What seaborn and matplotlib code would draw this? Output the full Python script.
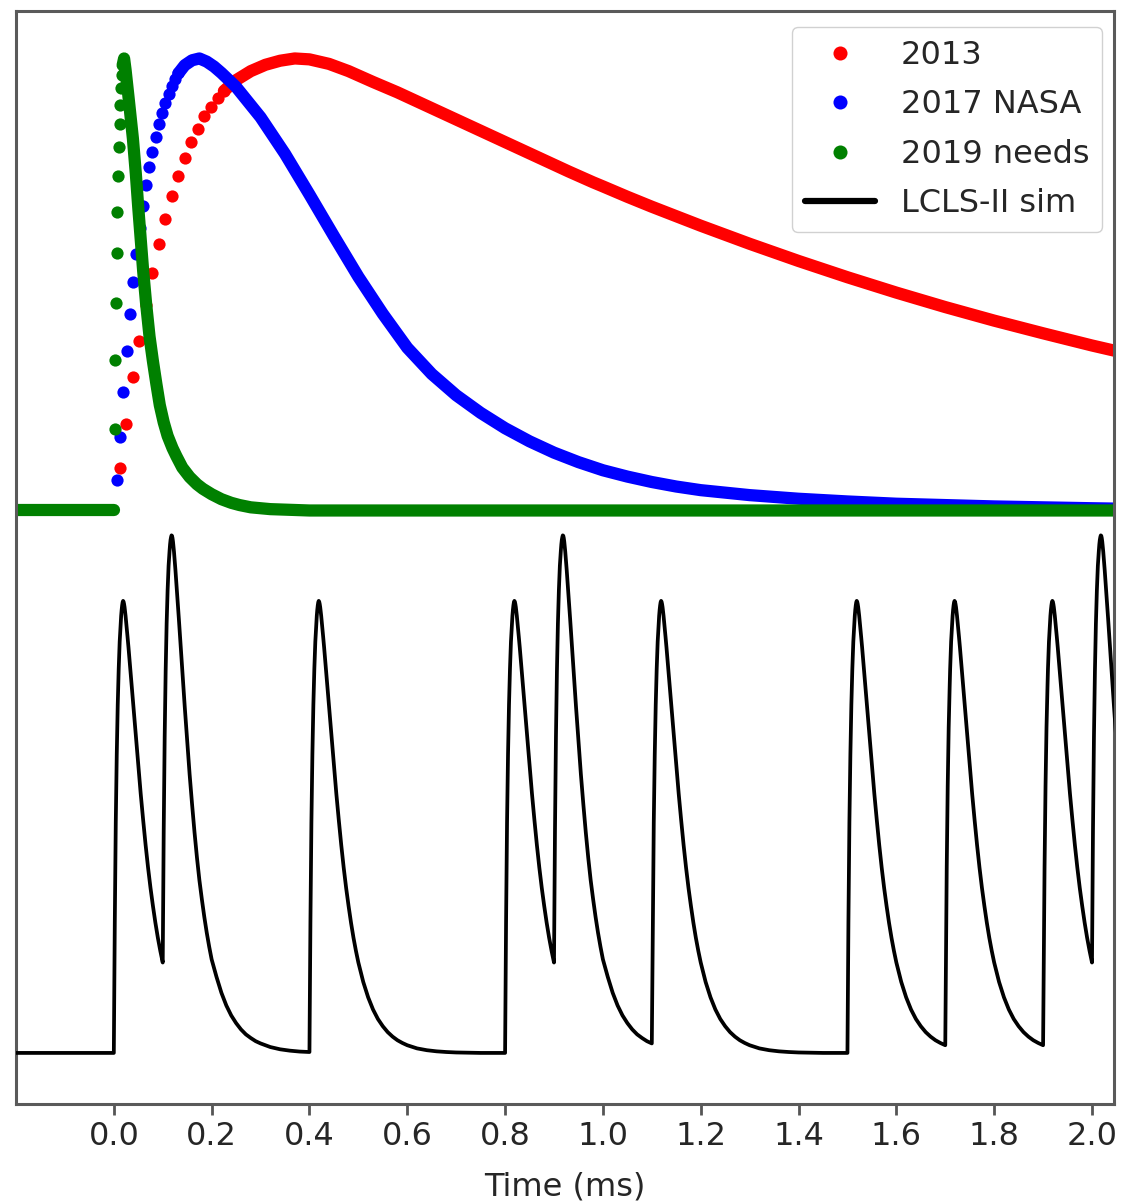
import numpy as np
import matplotlib
matplotlib.use("Agg")
import matplotlib.pyplot as plt
import seaborn as sns

# ---------------- data ----------------
# time in ms, amplitude normalised (pulse peak = 1)
red_rise_t = [0.012, 0.025, 0.039, 0.052, 0.065, 0.079, 0.092, 0.105, 0.118, 0.132,
              0.145, 0.158, 0.172, 0.185, 0.198, 0.212, 0.225]
red_rise_v = [0.093, 0.192, 0.296, 0.376, 0.455, 0.525, 0.590, 0.645, 0.695, 0.740,
              0.780, 0.815, 0.845, 0.872, 0.893, 0.912, 0.928]
red_body_t = [0.225, 0.25, 0.28, 0.31, 0.34, 0.37, 0.40, 0.44, 0.48, 0.53, 0.58, 0.63,
              0.68, 0.73, 0.78, 0.83, 0.88, 0.93, 0.98, 1.00, 1.05, 1.10, 1.15, 1.20,
              1.30, 1.40, 1.50, 1.60, 1.70, 1.80, 1.90, 2.00, 2.06]
red_body_v = [0.928, 0.952, 0.972, 0.986, 0.995, 1.000, 0.998, 0.988, 0.972, 0.948, 0.925, 0.900,
              0.875, 0.850, 0.825, 0.800, 0.775, 0.750, 0.726, 0.717, 0.694, 0.672, 0.651, 0.630,
              0.590, 0.552, 0.516, 0.482, 0.450, 0.420, 0.392, 0.365, 0.350]

blue_rise_t = [0.006, 0.013, 0.019, 0.026, 0.033, 0.039, 0.046, 0.053, 0.059, 0.066,
               0.072, 0.079, 0.086, 0.092, 0.099, 0.105, 0.112, 0.119, 0.125, 0.132]
blue_rise_v = [0.067, 0.163, 0.262, 0.352, 0.435, 0.505, 0.568, 0.624, 0.674, 0.719,
               0.759, 0.794, 0.826, 0.854, 0.879, 0.902, 0.922, 0.940, 0.955, 0.967]
blue_body_t = [0.132, 0.145, 0.16, 0.175, 0.19, 0.205, 0.22, 0.25, 0.30, 0.35, 0.40, 0.45,
               0.50, 0.55, 0.60, 0.65, 0.70, 0.75, 0.80, 0.85, 0.90, 0.95, 1.00, 1.05,
               1.10, 1.15, 1.20, 1.30, 1.40, 1.50, 1.60, 1.70, 1.80, 1.90, 2.00, 2.06]
blue_body_v = [0.967, 0.985, 0.996, 1.000, 0.993, 0.982, 0.968, 0.937, 0.870, 0.789, 0.699, 0.607,
               0.517, 0.435, 0.360, 0.302, 0.255, 0.216, 0.182, 0.153, 0.128, 0.107, 0.089, 0.075,
               0.063, 0.053, 0.045, 0.034, 0.026, 0.020, 0.015, 0.012, 0.009, 0.007, 0.005, 0.004]

green_base_t = [-0.25, 0.0]
green_base_v = [0.0, 0.0]
green_rise_t = [0.0015, 0.003, 0.0045, 0.006, 0.0075, 0.009, 0.0105, 0.012, 0.0135,
                0.015, 0.0165, 0.018]
green_rise_v = [0.181, 0.333, 0.458, 0.569, 0.661, 0.739, 0.805, 0.854, 0.897,
                0.934, 0.963, 0.985]
green_body_t = [0.018, 0.021, 0.024, 0.030, 0.039, 0.045, 0.050, 0.055, 0.060, 0.066, 0.073,
                0.080, 0.087, 0.094, 0.102, 0.110, 0.120, 0.128, 0.140, 0.155, 0.170, 0.182,
                0.20, 0.22, 0.24, 0.257, 0.28, 0.32, 0.40, 2.06]
green_body_v = [0.985, 1.000, 0.975, 0.915, 0.823, 0.745, 0.670, 0.600, 0.530, 0.458, 0.385,
                0.330, 0.280, 0.233, 0.195, 0.165, 0.138, 0.120, 0.095, 0.074, 0.058, 0.048,
                0.036, 0.025, 0.017, 0.012, 0.007, 0.003, 0.0, 0.0]

# LCLS-II simulated trace: pulse start times, which of the two read pulse
# shapes follows each start, and the two shapes sampled after a start
pulse_onsets = [0.0, 0.1, 0.4, 0.8, 0.9, 1.1, 1.5, 1.7, 1.9, 2.0]
pulse_kinds = ["single", "pileup", "single", "single", "pileup",
               "single", "single", "single", "single", "pileup"]
pulse_tau = [0.001, 0.002, 0.003, 0.004, 0.005, 0.006, 0.007, 0.008, 0.009, 0.010,
             0.011, 0.012, 0.013, 0.014, 0.015, 0.016, 0.017, 0.018, 0.019, 0.020,
             0.021, 0.022, 0.023, 0.024, 0.026, 0.028, 0.030, 0.033, 0.036, 0.040,
             0.045, 0.050, 0.055, 0.060, 0.065, 0.070, 0.075, 0.080, 0.085, 0.090,
             0.095, 0.100, 0.110, 0.120, 0.130, 0.140, 0.150, 0.160, 0.170, 0.180,
             0.190, 0.200, 0.220, 0.240, 0.260, 0.280, 0.300, 0.325, 0.350, 0.375, 0.400]
single_shape = [0.15, 0.29, 0.41, 0.51, 0.59, 0.66, 0.72, 0.77, 0.81, 0.85,
                0.88, 0.91, 0.93, 0.95, 0.967, 0.98, 0.99, 0.997, 1.000, 0.998,
                0.993, 0.986, 0.977, 0.967, 0.945, 0.921, 0.897, 0.858, 0.818, 0.765,
                0.700, 0.635, 0.573, 0.515, 0.460, 0.410, 0.365, 0.325, 0.288, 0.255,
                0.226, 0.200, 0.157, 0.123, 0.096, 0.075, 0.059, 0.046, 0.036, 0.028,
                0.022, 0.017, 0.010, 0.006, 0.0035, 0.002, 0.001, 0.0005, 0.0, 0.0, 0.0]
pileup_shape = [0.36, 0.49, 0.605, 0.70, 0.78, 0.845, 0.90, 0.95, 0.988, 1.024,
                1.052, 1.078, 1.095, 1.111, 1.125, 1.135, 1.141, 1.145, 1.144, 1.139,
                1.131, 1.121, 1.109, 1.096, 1.068, 1.038, 1.008, 0.960, 0.911, 0.845,
                0.766, 0.690, 0.616, 0.550, 0.488, 0.432, 0.382, 0.340, 0.301, 0.266,
                0.235, 0.207, 0.168, 0.133, 0.105, 0.083, 0.066, 0.052, 0.041, 0.033,
                0.026, 0.021, 0.013, 0.008, 0.005, 0.003, 0.002, 0.001, 0.0005, 0.0, 0.0]

labels = ["2013", "2017 NASA", "2019 needs", "LCLS-II sim"]
xticks = [0.0, 0.2, 0.4, 0.6, 0.8, 1.0, 1.2, 1.4, 1.6, 1.8, 2.0]
xlabel = "Time (ms)"

# assemble the black trace from the read pieces
shapes = {"single": np.array(single_shape), "pileup": np.array(pileup_shape)}
tau = np.array(pulse_tau)
ends = pulse_onsets[1:] + [2.06]
black_t = [-0.25, 0.0]
black_v = [0.0, 0.0]
for start, kind, stop in zip(pulse_onsets, pulse_kinds, ends):
    keep = tau <= (stop - start) + 1e-9
    black_t.extend(list(start + tau[keep]))
    black_v.extend(list(shapes[kind][keep]))

# ---------------- style / layout ----------------
TOP_OFFSET = 1.2          # vertical offset of the three reference shapes
DOT = 8.8                 # dot diameter (pt)
FS = 23
W, H = 1122, 1201

sns.set_theme(style="white")
plt.rcParams["font.family"] = ["DejaVu Sans"]

fig = plt.figure(figsize=(W / 100, H / 100), dpi=100)
ax = fig.add_axes([16 / W, 1 - 1104 / H, (1114 - 16) / W, (1104 - 11) / H])


def off(v):
    return np.asarray(v, dtype=float) + TOP_OFFSET


series = [
    ("red", labels[0], red_rise_t, red_rise_v, red_body_t, red_body_v, 2.0),
    ("blue", labels[1], blue_rise_t, blue_rise_v, blue_body_t, blue_body_v, 2.2),
    ("green", labels[2], green_rise_t, green_rise_v, green_body_t, green_body_v, 2.4),
]

for color, lab, rt, rv, bt, bv, z in series:
    sns.lineplot(x=bt, y=off(bv), color=color, linewidth=DOT, estimator=None,
                 solid_capstyle="round", solid_joinstyle="round", ax=ax, zorder=z,
                 legend=False)
    sns.scatterplot(x=rt, y=off(rv), color=color, s=DOT ** 2, linewidth=0,
                    ax=ax, zorder=z + 0.1, label=lab, legend=False)
    if color == "green":
        sns.lineplot(x=green_base_t, y=off(green_base_v), color=color, linewidth=DOT,
                     estimator=None, solid_capstyle="round", ax=ax, zorder=z, legend=False)

sns.lineplot(x=black_t, y=black_v, color="black", linewidth=2.7, estimator=None,
             sort=False, solid_joinstyle="round", ax=ax, zorder=3,
             label=labels[3], legend=False)

ax.set_xlim(-0.2, 2.045)
ax.set_ylim(-0.113, 2.305)
ax.set_yticks([])
ax.set_xticks(xticks)
ax.set_xticklabels([f"{x:.1f}" for x in xticks])
ax.tick_params(axis="x", bottom=True, direction="out", length=8, width=2,
               color="#555555", labelsize=FS, labelcolor="#262626", pad=4)
ax.set_xlabel(xlabel, fontsize=FS, color="#262626", labelpad=14)
ax.set_ylabel("")
for sp in ax.spines.values():
    sp.set_visible(True)
    sp.set_color("#5a5a5a")
    sp.set_linewidth(2.2)

handles, labs = ax.get_legend_handles_labels()
order = [labs.index(l) for l in labels]
leg = ax.legend([handles[i] for i in order], [labs[i] for i in order],
                loc="upper right",
                bbox_to_anchor=((1102 - 16) / (1114 - 16), 1 - (27 - 11) / (1104 - 11)),
                borderaxespad=0.0, fontsize=FS, frameon=True, fancybox=True,
                edgecolor="#cccccc", framealpha=0.9, scatterpoints=1,
                scatteryoffsets=[0.5], markerscale=1.15, handlelength=2.2,
                labelspacing=0.58, handletextpad=0.8)
for txt in leg.get_texts():
    txt.set_color("#262626")
for h in leg.legend_handles:
    if h.__class__.__name__ == "Line2D":
        h.set_linewidth(4.5)

fig.savefig("out.png", dpi=100)
